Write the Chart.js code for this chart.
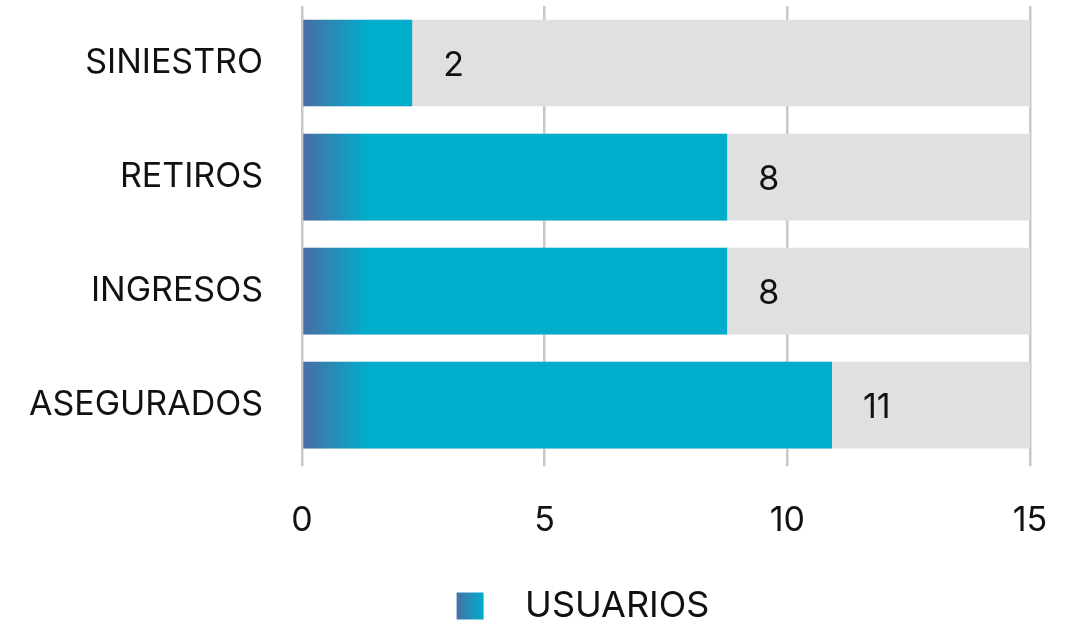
<!DOCTYPE html>
<html>
<head>
<meta charset="utf-8">
<script src="https://cdn.jsdelivr.net/npm/chart.js@4.4.1/dist/chart.umd.min.js"></script>
<style>
  html, body { margin: 0; padding: 0; background: #fff; }
  #wrap { width: 1078px; height: 625px; }
</style>
</head>
<body>
<div id="wrap"><canvas id="grafico"></canvas></div>
<script>
// datos del gráfico
const categorias = ["SINIESTRO", "RETIROS", "INGRESOS", "ASEGURADOS"];
const usuarios = [2.27, 8.76, 8.76, 10.92];      // largo de barra
const etiquetas = ["2", "8", "8", "11"];          // texto que muestra cada barra
const fondo = [15, 15, 15, 15];                   // barra gris de fondo
const ticksX = [0, 5, 10, 15];

const FUENTE = "Inter, 'Noto Sans', sans-serif";
const IZQ = 136; // margen izquierdo del layout (desplaza la leyenda a la derecha)

function gradiente(ctx, x0, x1) {
    const g = ctx.createLinearGradient(x0, 0, x1, 0);
    g.addColorStop(0, "#4670a6");
    g.addColorStop(1, "#00adcb");
    return g;
}

// etiquetas de valor a la derecha de cada barra
const pluginEtiquetas = {
    id: "etiquetas",
    afterDatasetsDraw(chart) {
        const meta = chart.getDatasetMeta(1);
        const ctx = chart.ctx;
        ctx.save();
        ctx.font = "34px " + FUENTE;
        ctx.fillStyle = "#111";
        ctx.textAlign = "left";
        ctx.textBaseline = "middle";
        meta.data.forEach((bar, i) => {
            ctx.fillText(etiquetas[i], bar.x + 31, bar.y + 3);
        });
        ctx.restore();
    },
};

// degradado del cuadro de la leyenda + que no se recorten las categorías
const pluginLeyenda = {
    id: "leyendaGradiente",
    afterLayout(chart) {
        chart.scales.y.left = 0;
    },
    beforeDraw(chart) {
        const lg = chart.legend;
        if (!lg || !lg.legendHitBoxes || !lg.legendHitBoxes.length) return;
        const hb = lg.legendHitBoxes[0];
        lg.legendItems[0].fillStyle = gradiente(chart.ctx, hb.left, hb.left + 27);
    },
};

const ctx = document.getElementById("grafico").getContext("2d");

new Chart(ctx, {
    type: "bar",
    data: {
        labels: categorias,
        datasets: [
            {
                label: "fondo",
                data: fondo,
                backgroundColor: "#e0e0e0",
                grouped: false,
                order: 2,
                barPercentage: 0.76,
                categoryPercentage: 1,
            },
            {
                label: "USUARIOS",
                data: usuarios,
                backgroundColor: (c) => {
                    const area = c.chart.chartArea;
                    if (!area) return "#00adcb";
                    return gradiente(c.chart.ctx, area.left + 4, area.left + 66);
                },
                grouped: false,
                order: 1,
                barPercentage: 0.76,
                categoryPercentage: 1,
            },
        ],
    },
    options: {
        indexAxis: "y",
        responsive: true,
        maintainAspectRatio: false,
        animation: false,
        layout: {
            padding: { top: 6, right: 48, left: IZQ, bottom: -9 },
        },
        scales: {
            x: {
                min: 0,
                max: 15,
                afterBuildTicks: (scale) => {
                    scale.ticks = ticksX.map((v) => ({ value: v }));
                },
                afterFit: (scale) => {
                    scale.paddingLeft = 0;
                    scale.paddingRight = 0;
                },
                grid: {
                    color: "#c8c8c8",
                    lineWidth: 2.5,
                    drawTicks: true,
                    tickLength: 4,
                },
                border: { display: false },
                ticks: {
                    color: "#111",
                    font: { family: FUENTE, size: 34 },
                    padding: 34,
                },
            },
            y: {
                grid: { display: false, drawTicks: false },
                border: { display: false },
                afterFit: (scale) => {
                    scale.width = 302 - IZQ;
                    scale.paddingTop = 0;
                    scale.paddingBottom = 0;
                },
                ticks: {
                    color: "#111",
                    font: { family: FUENTE, size: 34 },
                    padding: 39,
                },
            },
        },
        plugins: {
            tooltip: { enabled: false },
            legend: {
                position: "bottom",
                labels: {
                    filter: (item) => item.datasetIndex === 1,
                    boxWidth: 27,
                    boxHeight: 27,
                    color: "#111",
                    font: { family: FUENTE, size: 36 },
                    padding: 13,
                    generateLabels: (chart) => {
                        const items = Chart.defaults.plugins.legend.labels.generateLabels(chart);
                        items.forEach((it) => {
                            it.text = "  \u200A" + it.text;
                            it.strokeStyle = "rgba(0,0,0,0)";
                            it.lineWidth = 0;
                        });
                        return items;
                    },
                },
            },
        },
    },
    plugins: [pluginEtiquetas, pluginLeyenda],
});
</script>
</body>
</html>
